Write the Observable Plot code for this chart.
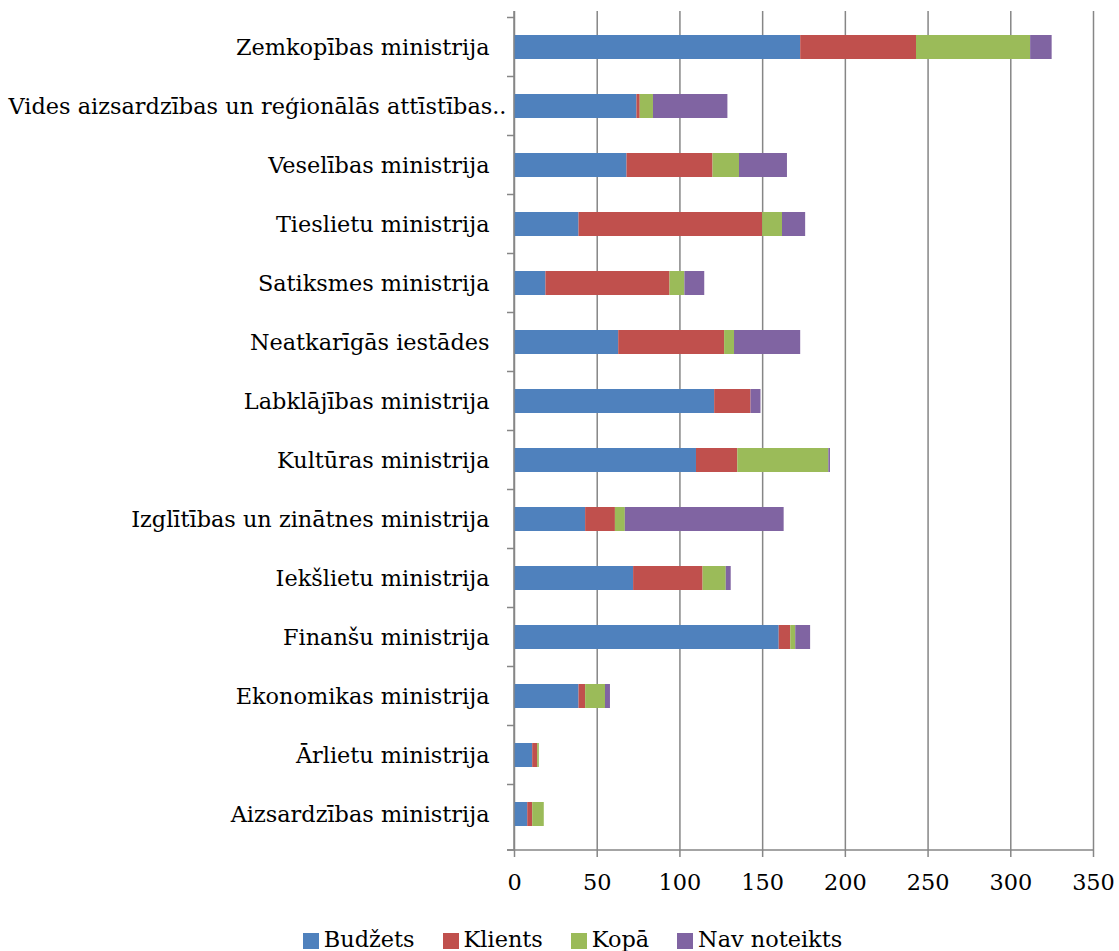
<!DOCTYPE html>
<html>
<head>
<meta charset="utf-8">
<script src="https://cdn.jsdelivr.net/npm/d3@7"></script>
<script src="https://cdn.jsdelivr.net/npm/@observablehq/plot@0.6"></script>
<style>
  html, body { margin: 0; padding: 0; background: #fff; }
  #chart { width: 1119px; }
  .legend { display: flex; justify-content: center; gap: 28px; font-family: "DejaVu Serif", serif; font-size: 22.4px; line-height: 26px; color: #000; margin-top: 16px; padding-left: 26px; }
  .legend span { display: inline-flex; align-items: center; }
  .legend i { display: inline-block; width: 16px; height: 16px; margin-right: 5px; margin-top: 3px; }
</style>
</head>
<body>
<div id="chart"></div>
<script>
// Ministries, top to bottom
const categories = [
  "Zemkopības ministrija",
  "Vides aizsardzības un reģionālās attīstības..",
  "Veselības ministrija",
  "Tieslietu ministrija",
  "Satiksmes ministrija",
  "Neatkarīgās iestādes",
  "Labklājības ministrija",
  "Kultūras ministrija",
  "Izglītības un zinātnes ministrija",
  "Iekšlietu ministrija",
  "Finanšu ministrija",
  "Ekonomikas ministrija",
  "Ārlietu ministrija",
  "Aizsardzības ministrija"
];

const seriesNames = ["Budžets", "Klients", "Kopā", "Nav noteikts"];
const seriesColors = ["#4F81BD", "#C0504D", "#9BBB59", "#8064A2"];

const budzets     = [173, 74, 68, 39, 19, 63, 121, 110, 43, 72, 160, 39, 11, 8];
const klients     = [70, 2, 52, 111, 75, 64, 22, 25, 18, 42, 7, 4, 3, 3];
const kopa        = [69, 8, 16, 12, 9, 6, 0, 55, 6, 14, 3, 12, 1, 7];
const navNoteikts = [13, 45, 29, 14, 12, 40, 6, 1, 96, 3, 9, 3, 0, 0];

const xTicks = [0, 50, 100, 150, 200, 250, 300, 350];

const seriesValues = [budzets, klients, kopa, navNoteikts];
const rows = [];
categories.forEach((cat, i) => {
  seriesNames.forEach((s, j) => {
    rows.push({ministry: cat, series: s, value: seriesValues[j][i]});
  });
});

const axisColor = "#868686";
const font = "DejaVu Serif, serif";
const fontSize = 22.4;

// The truncated long name overhangs the label column a little
const longName = categories[1];
const regularNames = categories.filter(c => c !== longName);

// Category-boundary ticks on the left axis plus the bottom baseline
function categoryFrame(index, scales, values, dims) {
  const y = scales.y;
  const step = y.step();
  const gap = (step - y.bandwidth()) / 2;
  const x0 = dims.marginLeft;
  const top = dims.marginTop;
  const bottom = dims.height - dims.marginBottom;
  const g = d3.create("svg:g")
    .attr("stroke", axisColor)
    .attr("stroke-width", 1.5);
  const bounds = categories.map(c => y(c) - gap);
  bounds.push(bottom);
  for (const b of bounds) {
    g.append("line").attr("x1", x0 - 7).attr("x2", x0).attr("y1", b).attr("y2", b);
  }
  g.append("line").attr("x1", x0).attr("x2", x0).attr("y1", top).attr("y2", bottom);
  g.append("line").attr("x1", x0 - 7).attr("x2", dims.width - dims.marginRight).attr("y1", bottom).attr("y2", bottom);
  return g.node();
}

const chart = Plot.plot({
  width: 1119,
  height: 910,
  marginLeft: 514,
  marginRight: 26,
  marginTop: 11,
  marginBottom: 60,
  style: {fontFamily: font, fontSize: fontSize + "px", color: "#000", background: "#fff", overflow: "visible"},
  x: {domain: [0, 350]},
  y: {domain: categories, paddingInner: 0.6, paddingOuter: 0.3},
  color: {domain: seriesNames, range: seriesColors},
  marks: [
    Plot.gridX(xTicks, {stroke: axisColor, strokeOpacity: 1, strokeWidth: 1.5}),
    Plot.barX(rows, Plot.stackX({y: "ministry", x: "value", fill: "series", order: seriesNames})),
    categoryFrame,
    Plot.axisX(xTicks, {tickSize: 7, tickPadding: 17, stroke: axisColor, strokeWidth: 1.5, fontSize, label: null, fill: "#000"}),
    Plot.axisY(regularNames, {tickSize: 0, tickPadding: 25, fontSize, label: null, fill: "#000"}),
    Plot.axisY([longName], {tickSize: 0, tickPadding: 8, fontSize, label: null, fill: "#000"})
  ]
});

document.getElementById("chart").append(chart);

const legend = document.createElement("div");
legend.className = "legend";
seriesNames.forEach((s, j) => {
  const item = document.createElement("span");
  const sw = document.createElement("i");
  sw.style.background = seriesColors[j];
  item.append(sw, document.createTextNode(s));
  legend.append(item);
});
document.getElementById("chart").append(legend);
</script>
</body>
</html>
